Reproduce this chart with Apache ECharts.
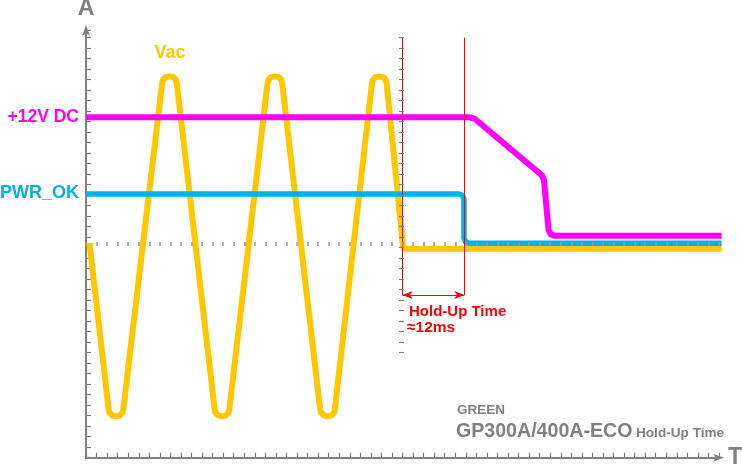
<!DOCTYPE html>
<html>
<head>
<meta charset="utf-8">
<title>GP300A/400A-ECO Hold-Up Time</title>
<script src="https://cdn.jsdelivr.net/npm/echarts@6/dist/echarts.min.js"></script>
<style>
    html, body { margin: 0; padding: 0; background: #fff; }
    #main { width: 742px; height: 466px; }
</style>
</head>
<body>
<div id="main"></div>
<script>
// x in time ticks, y in level ticks
var vacData = [
    [0.33, 20.45],
    [2.13, 4.73], [2.22, 4.30], [2.46, 4.04], [2.84, 3.94], [3.22, 4.04], [3.46, 4.30], [3.55, 4.73],
    [7.20, 35.54], [7.29, 35.97], [7.53, 36.24], [7.91, 36.32], [8.29, 36.24], [8.53, 35.97], [8.62, 35.54],
    [12.18, 4.73], [12.27, 4.30], [12.51, 4.04], [12.89, 3.94], [13.27, 4.04], [13.51, 4.30], [13.60, 4.73],
    [17.19, 35.54], [17.28, 35.97], [17.52, 36.24], [17.90, 36.32], [18.28, 36.24], [18.52, 35.97], [18.61, 35.54],
    [22.18, 4.73], [22.27, 4.30], [22.51, 4.04], [22.89, 3.94], [23.27, 4.04], [23.51, 4.30], [23.60, 4.73],
    [27.09, 35.54], [27.18, 35.97], [27.42, 36.24], [27.80, 36.32], [28.18, 36.24], [28.42, 35.97], [28.51, 35.54],
    [30.05, 20.11], [30.19, 19.90], [60.24, 19.90]
];
var dc12Data = [
    [0, 32.42], [36.40, 32.42], [36.87, 32.26], [42.84, 27.21], [43.22, 26.88], [43.41, 26.45],
    [43.84, 21.69], [44.03, 21.30], [44.36, 21.14], [60.24, 21.14]
];
var pwrOkData = [
    [0, 25.12], [35.36, 25.12], [35.69, 24.97], [35.83, 24.64], [35.83, 20.92],
    [35.97, 20.56], [36.30, 20.42], [60.24, 20.42]
];
var holdUpStart = 30;      // AC lost
var holdUpEnd = 35.86;     // PWR_OK drops
var markerTop = 40;
var arrowLevel = 15.5;

var seriesNames = ['Vac', '+12V DC', 'PWR_OK'];
var seriesColors = ['#FFC700', '#FF00FF', '#00B1EB'];

var GRAY = '#808080';
var FONT = '"Liberation Sans", Arial, sans-serif';

var myChart = echarts.init(document.getElementById('main'));

function txt(text, x, y, size, color, align) {
    return {
        type: 'text',
        z: 20,
        style: {
            text: text,
            x: x,
            y: y,
            fill: color,
            font: 'bold ' + size + 'px ' + FONT,
            textAlign: align || 'left',
            textVerticalAlign: 'middle'
        }
    };
}

var option = {
    animation: false,
    backgroundColor: '#fff',
    grid: [
        {left: 86, top: 30, bottom: 8.3, width: 633},
        // only used for the tick column at the hold-up start
        {left: 86, top: 37.7, bottom: 113.3, width: 633}
    ],
    xAxis: [
        {
            type: 'value', min: 0, max: 60, interval: 1,
            axisLine: {
                show: true,
                lineStyle: {color: GRAY, width: 2},
                symbol: ['none', 'arrow'],
                symbolSize: [6, 11],
                symbolOffset: [0, 5]
            },
            axisTick: {show: true, inside: true, length: 5, lineStyle: {color: GRAY, width: 1.2}},
            axisLabel: {show: false},
            splitLine: {show: false}
        },
        {
            // dotted zero level
            type: 'value', min: 0, max: 60, interval: 1, position: 'bottom', offset: -211.7, z: 5,
            axisLine: {show: false},
            axisTick: {show: true, inside: true, length: 4, lineStyle: {color: '#999', width: 1.5}},
            axisLabel: {show: false},
            splitLine: {show: false}
        },
        {gridIndex: 1, type: 'value', min: 0, max: 60, show: false}
    ],
    yAxis: [
        {
            type: 'value', min: 0, max: 40.733, interval: 1,
            axisLine: {
                show: true,
                lineStyle: {color: GRAY, width: 2},
                symbol: ['none', 'arrow'],
                symbolSize: [6, 11],
                symbolOffset: [0, 5]
            },
            axisTick: {show: true, inside: true, length: 5, lineStyle: {color: GRAY, width: 1.2}},
            axisLabel: {show: false},
            splitLine: {show: false}
        },
        {
            gridIndex: 1, type: 'value', min: 10, max: 40, interval: 1, position: 'left', offset: -313, z: 5,
            axisLine: {show: false},
            axisTick: {show: true, inside: true, length: 5, lineStyle: {color: GRAY, width: 1.2}},
            axisLabel: {show: false},
            splitLine: {show: false}
        }
    ],
    series: [
        {
            name: seriesNames[0],
            type: 'line',
            data: vacData,
            showSymbol: false,
            clip: false,
            z: 2,
            lineStyle: {color: seriesColors[0], width: 6, join: 'round'},
            markLine: {
                silent: true,
                symbol: 'none',
                label: {show: false},
                lineStyle: {color: '#FF0000', width: 1, type: 'solid'},
                data: [
                    [{coord: [holdUpStart, markerTop]}, {coord: [holdUpStart, arrowLevel]}],
                    [{coord: [holdUpEnd, markerTop]}, {coord: [holdUpEnd, arrowLevel]}],
                    [
                        {coord: [holdUpStart, arrowLevel], symbol: 'arrow', symbolSize: [6, 10]},
                        {coord: [holdUpEnd, arrowLevel], symbol: 'arrow', symbolSize: [6, 10]}
                    ]
                ]
            }
        },
        {
            name: seriesNames[1],
            type: 'line',
            data: dc12Data,
            showSymbol: false,
            clip: false,
            z: 3,
            lineStyle: {color: seriesColors[1], width: 6, join: 'round'}
        },
        {
            name: seriesNames[2],
            type: 'line',
            data: pwrOkData,
            showSymbol: false,
            clip: false,
            z: 4,
            lineStyle: {color: seriesColors[2], width: 5.5, join: 'round'}
        }
    ],
    graphic: [
        txt('A', 86, 9, 23, GRAY, 'center'),
        txt('T', 735, 458, 23, GRAY, 'center'),
        txt('Vac', 170, 53, 18, seriesColors[0], 'center'),
        txt('+12V DC', 79, 117, 17.5, seriesColors[1], 'right'),
        txt('PWR_OK', 0, 193, 18, seriesColors[2], 'left'),
        txt('Hold-Up Time', 409, 311.5, 15, '#FF0000', 'left'),
        txt('\u224812ms', 407, 328, 15.5, '#FF0000', 'left'),
        txt('GREEN', 457, 410.5, 13.5, GRAY, 'left'),
        txt('GP300A/400A-ECO', 456, 432, 19.6, GRAY, 'left'),
        txt('Hold-Up Time', 636, 433, 13.6, GRAY, 'left')
    ]
};

myChart.setOption(option);
</script>
</body>
</html>
